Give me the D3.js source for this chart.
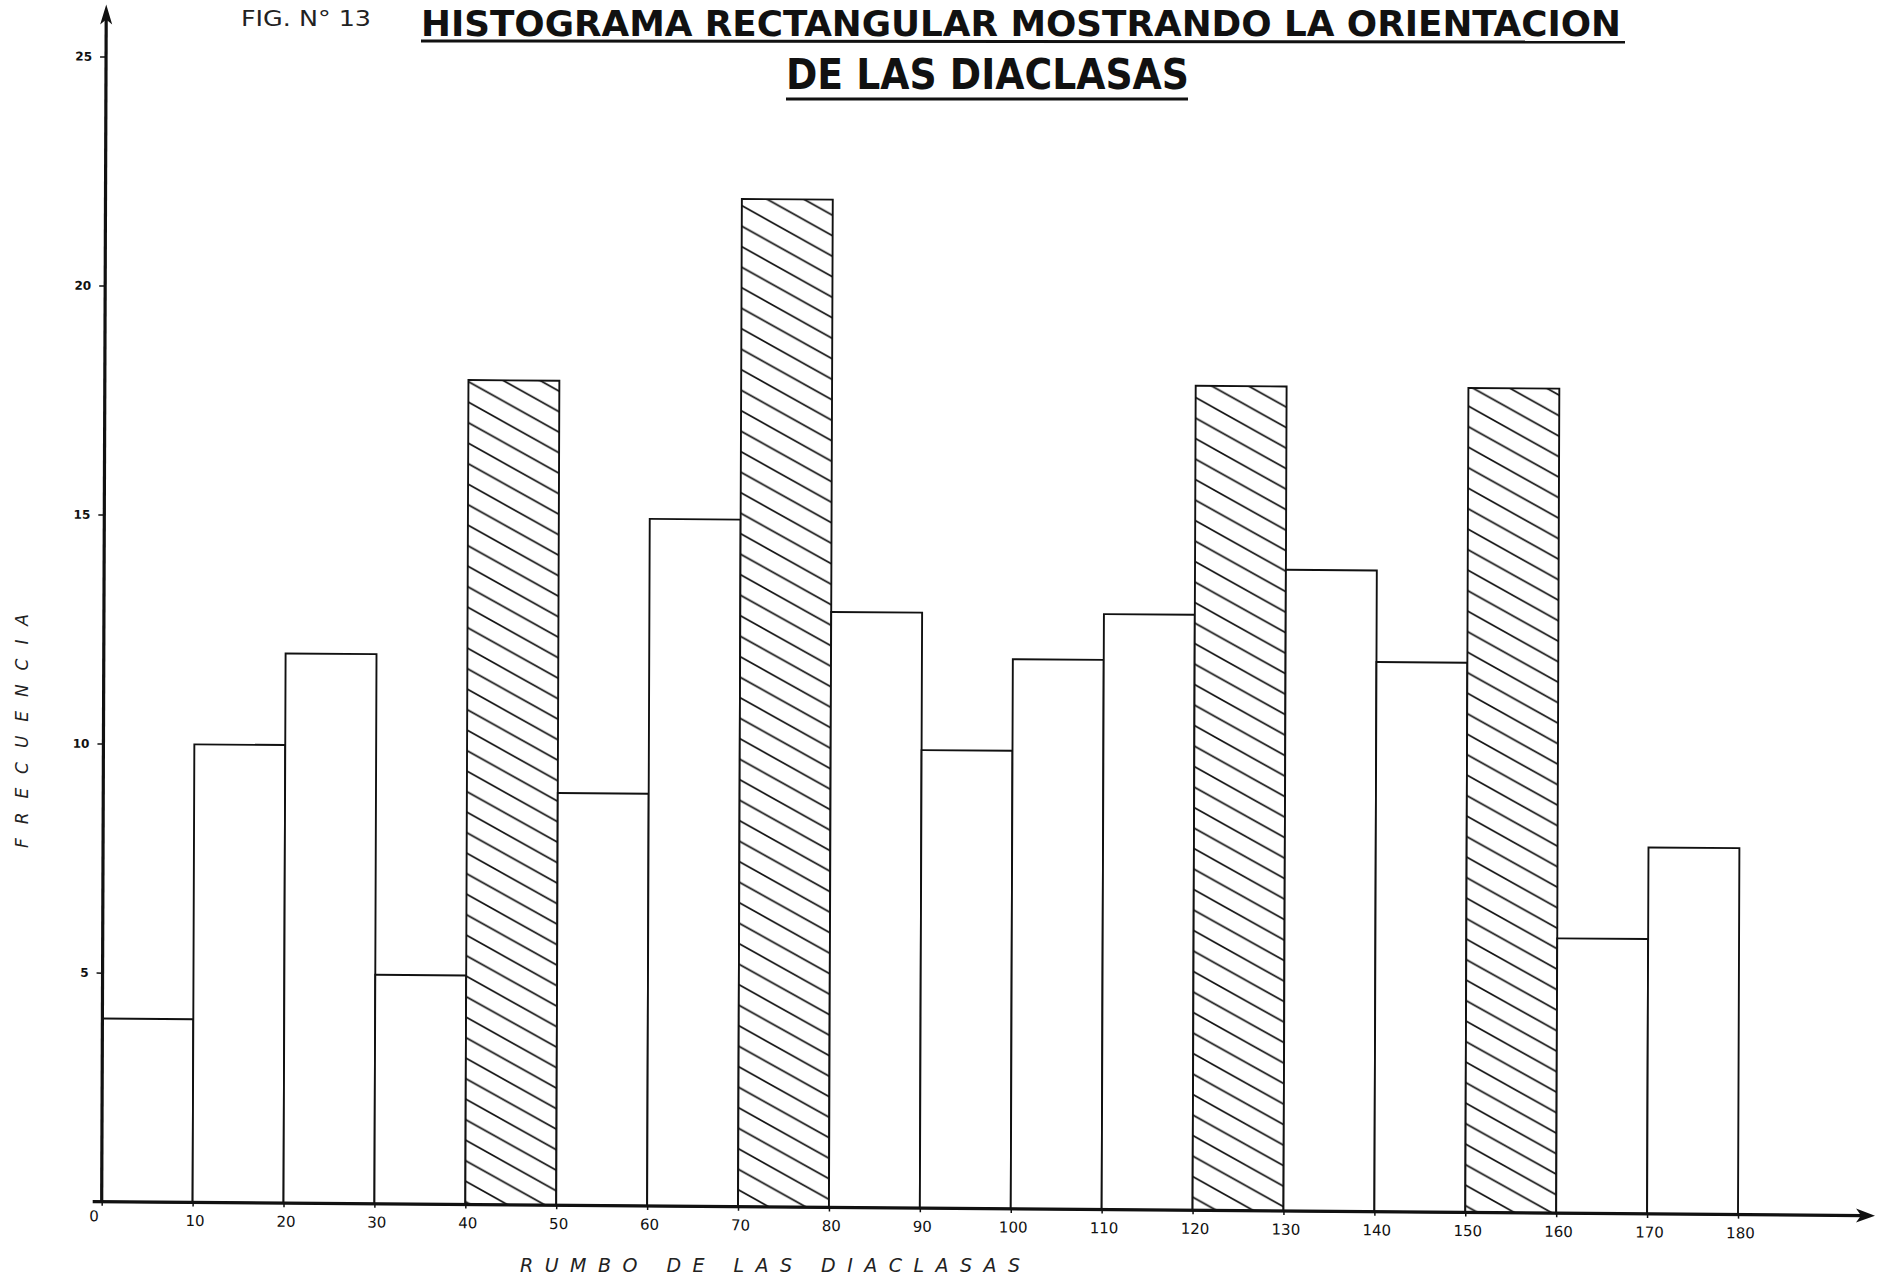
<!DOCTYPE html>
<html>
<head>
<meta charset="utf-8">
<script src="https://cdn.jsdelivr.net/npm/d3@7"></script>
<style>
  html, body { margin: 0; padding: 0; background: #fff; }
  svg { display: block; }
</style>
</head>
<body>
<svg id="chart" width="1887" height="1279"></svg>
<script>
// ---- data ----
const binStarts = [0, 10, 20, 30, 40, 50, 60, 70, 80, 90, 100, 110, 120, 130, 140, 150, 160, 170];
const frequencies = [4, 10, 12, 5, 18, 9, 15, 22, 13, 10, 12, 13, 18, 14, 12, 18, 6, 8];
const hatched = [false, false, false, false, true, false, false, true, false, false, false, false, true, false, false, true, false, false];
const binWidth = 10;
const xTicks = [0, 10, 20, 30, 40, 50, 60, 70, 80, 90, 100, 110, 120, 130, 140, 150, 160, 170, 180];
const yTicks = [5, 10, 15, 20, 25];
const figLabel = "FIG. N° 13";
const titleLine1 = "HISTOGRAMA RECTANGULAR MOSTRANDO LA ORIENTACION";
const titleLine2 = "DE LAS DIACLASAS";
const xTitle = "RUMBO   DE   LAS   DIACLASAS";
const yTitle = "FRECUENCIA";

const svg = d3.select("#chart");
const ox = 101.7, oy = 1201.7;

const x = d3.scaleLinear().domain([0, 180]).range([ox, 1738]);
const y = d3.scaleLinear().domain([0, 25]).range([oy, 56.5]);

// hatch pattern
const pw = 37.3, ph = 20.5;
const defs = svg.append("defs");
const pat = defs.append("pattern")
  .attr("id", "hatch")
  .attr("patternUnits", "userSpaceOnUse")
  .attr("width", pw).attr("height", ph);
pat.append("rect").attr("width", pw).attr("height", ph).attr("fill", "#fff");
[-pw, 0, pw].forEach(off => {
  pat.append("line")
    .attr("x1", off - 2).attr("y1", -2 * ph / pw)
    .attr("x2", off + pw + 2).attr("y2", ph + 2 * ph / pw)
    .attr("stroke", "#111").attr("stroke-width", 1.7);
});

// slight skew of the scanned drawing
const plot = svg.append("g")
  .attr("transform", `translate(${ox},${oy}) matrix(1,0.0079,-0.0038,1,0,0) translate(${-ox},${-oy})`);

// bars
plot.append("g").selectAll("rect")
  .data(binStarts.map((s, i) => ({ s, v: frequencies[i], h: hatched[i] })))
  .join("rect")
  .attr("x", d => x(d.s))
  .attr("y", d => y(d.v))
  .attr("width", d => x(d.s + binWidth) - x(d.s))
  .attr("height", d => y(0) - y(d.v))
  .attr("fill", d => d.h ? "url(#hatch)" : "#fff")
  .attr("stroke", "#111")
  .attr("stroke-width", 1.9);

// x axis
const xAxis = plot.append("g")
  .attr("transform", `translate(0,${oy})`)
  .call(d3.axisBottom(x).tickValues(xTicks).tickSize(4).tickPadding(9).tickFormat(d3.format("d")));
xAxis.select(".domain").remove();
xAxis.selectAll(".tick line").attr("stroke", "#111").attr("stroke-width", 1.5);
xAxis.selectAll(".tick text")
  .attr("font-family", "DejaVu Sans, sans-serif")
  .attr("font-size", 15)
  .attr("fill", "#111")
  .attr("dx", d => d === 0 ? -8 : 2)
  .attr("dy", d => d === 0 ? "0.45em" : "0.71em");

// y axis
const yAxis = plot.append("g")
  .attr("transform", `translate(${ox},0)`)
  .call(d3.axisLeft(y).tickValues(yTicks).tickSize(6).tickPadding(8).tickFormat(d3.format("d")));
yAxis.select(".domain").remove();
yAxis.selectAll(".tick line").attr("stroke", "#111").attr("stroke-width", 1.5);
yAxis.selectAll(".tick text")
  .attr("font-family", "DejaVu Sans, sans-serif")
  .attr("font-size", 12)
  .attr("font-weight", "bold")
  .attr("fill", "#111");

// axis lines with arrows
plot.append("line")
  .attr("x1", ox - 9).attr("y1", oy).attr("x2", 1862).attr("y2", oy)
  .attr("stroke", "#111").attr("stroke-width", 3.2);
plot.append("path")
  .attr("d", `M1875,${oy} L1856,${oy - 7} L1861,${oy} L1856,${oy + 7} Z`)
  .attr("fill", "#111");
plot.append("line")
  .attr("x1", ox).attr("y1", oy).attr("x2", ox).attr("y2", y(25) - 40)
  .attr("stroke", "#111").attr("stroke-width", 3.2);
plot.append("path")
  .attr("d", `M${ox},${y(25) - 52} L${ox - 6},${y(25) - 32} L${ox},${y(25) - 37} L${ox + 6},${y(25) - 32} Z`)
  .attr("fill", "#111");

// titles
const condensed = "'Liberation Sans Narrow', 'DejaVu Sans Condensed', 'Liberation Sans', sans-serif";
svg.append("text")
  .attr("x", 241).attr("y", 26)
  .attr("font-family", condensed)
  .attr("font-size", 21)
  .attr("fill", "#222")
  .attr("textLength", 130).attr("lengthAdjust", "spacingAndGlyphs")
  .text(figLabel);
svg.append("text")
  .attr("x", 421).attr("y", 36)
  .attr("font-family", condensed)
  .attr("font-weight", "bold")
  .attr("font-size", 35)
  .attr("fill", "#111")
  .attr("textLength", 1200).attr("lengthAdjust", "spacingAndGlyphs")
  .text(titleLine1);
svg.append("line")
  .attr("x1", 421).attr("y1", 41).attr("x2", 1625).attr("y2", 42)
  .attr("stroke", "#111").attr("stroke-width", 3);
svg.append("text")
  .attr("x", 786).attr("y", 89)
  .attr("font-family", condensed)
  .attr("font-weight", "bold")
  .attr("font-size", 42)
  .attr("fill", "#111")
  .attr("textLength", 403).attr("lengthAdjust", "spacingAndGlyphs")
  .text(titleLine2);
svg.append("line")
  .attr("x1", 786).attr("y1", 99).attr("x2", 1188).attr("y2", 99)
  .attr("stroke", "#111").attr("stroke-width", 3);

// axis titles
svg.append("text")
  .attr("x", 520).attr("y", 1272)
  .attr("font-family", "DejaVu Sans, sans-serif")
  .attr("font-style", "italic")
  .attr("font-size", 19)
  .attr("fill", "#222")
  .attr("textLength", 500).attr("lengthAdjust", "spacing")
  .text(xTitle);
svg.append("text")
  .attr("transform", "translate(28,848) rotate(-90)")
  .attr("font-family", "DejaVu Sans, sans-serif")
  .attr("font-style", "italic")
  .attr("font-size", 17)
  .attr("fill", "#222")
  .attr("textLength", 234).attr("lengthAdjust", "spacing")
  .text(yTitle);
</script>
</body>
</html>
